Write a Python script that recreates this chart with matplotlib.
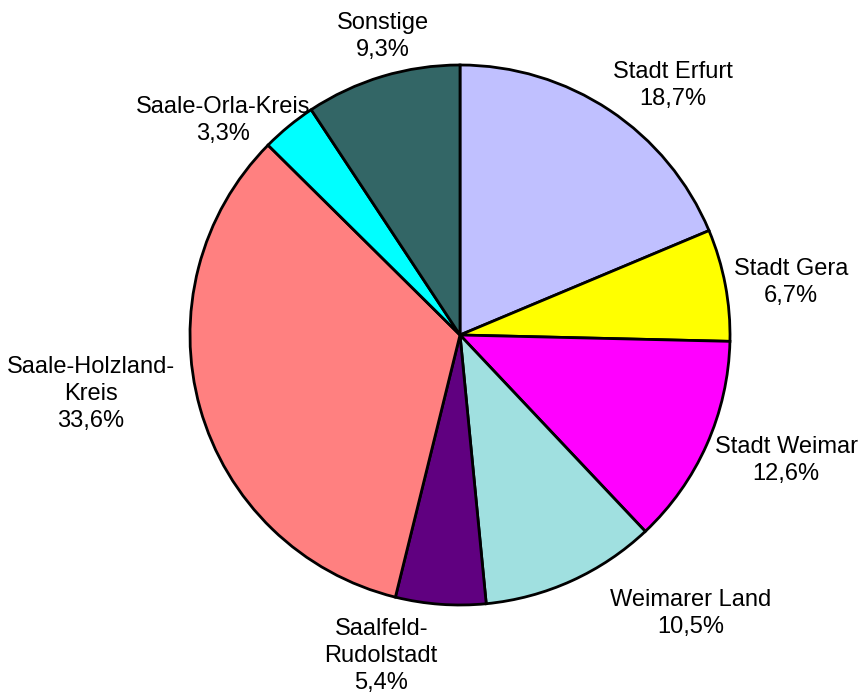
import numpy as np
import matplotlib
matplotlib.use('Agg')
import matplotlib.pyplot as plt

plt.rcParams['font.family'] = ['Liberation Sans', 'DejaVu Sans']

names = ['Stadt Erfurt', 'Stadt Gera', 'Stadt Weimar', 'Weimarer Land',
         'Saalfeld-\nRudolstadt', 'Saale-Holzland-\nKreis', 'Saale-Orla-Kreis', 'Sonstige']
shares = [18.7, 6.7, 12.6, 10.5, 5.4, 33.6, 3.3, 9.3]
colors = ['#C0C0FF', '#FFFF00', '#FF00FF', '#A0E0E0',
          '#600080', '#FF8080', '#00FFFF', '#336666']

# label anchor (angle in degrees, distance in radii) as placed in the original
label_angle = [49.8, 9.4, -20.7, -50.1, -103.9, -171.3, 137.6, 104.3]
label_dist = [1.222, 1.243, 1.291, 1.334, 1.215, 1.383, 1.19, 1.152]

fig = plt.figure(figsize=(8.62, 6.95), dpi=100)
ax = fig.add_axes([0, 0, 1, 1])

r = 270.0
ax.pie(shares, colors=colors, startangle=90, counterclock=False,
       wedgeprops={'edgecolor': 'black', 'linewidth': 2.0})

for name, val, a, d in zip(names, shares, label_angle, label_dist):
    t = np.deg2rad(a)
    txt = name + '\n' + ('%.1f%%' % val).replace('.', ',')
    ax.text(d * np.cos(t), d * np.sin(t) - 2.5 / r, txt, ha='center', va='center',
            fontsize=17, linespacing=1.3)

ax.set_xlim(-460 / r, (862 - 460) / r)
ax.set_ylim(-(695 - 335) / r, 335 / r)
ax.set_aspect('auto')
ax.axis('off')

fig.savefig('out.png', dpi=100)
